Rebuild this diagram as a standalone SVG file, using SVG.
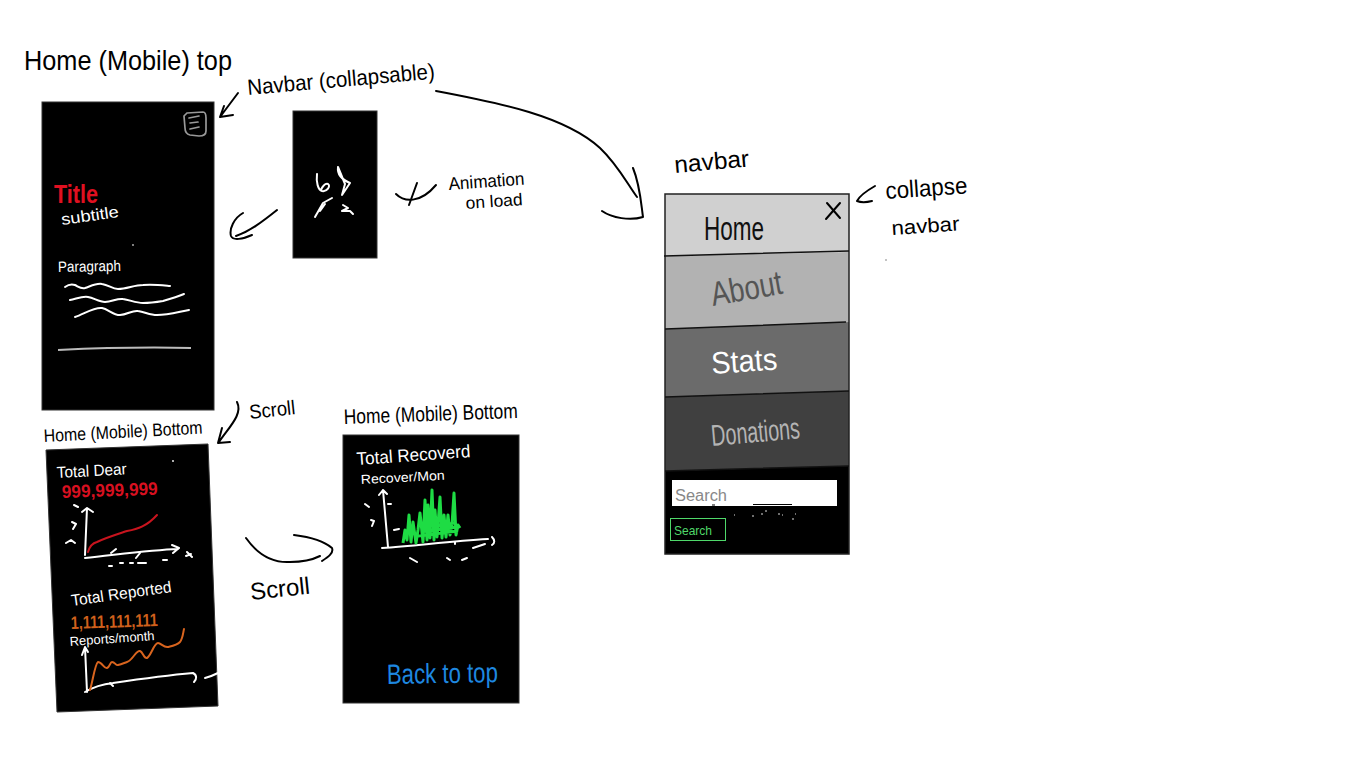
<svg xmlns="http://www.w3.org/2000/svg" width="1366" height="768" viewBox="0 0 1366 768">
<style>
text{font-family:"Liberation Sans","DejaVu Sans",sans-serif;fill:#000}
.w{fill:#fff}
.ink{fill:none;stroke:#000;stroke-width:2;stroke-linecap:round;stroke-linejoin:round}
.chalk{fill:none;stroke:#fff;stroke-width:2;stroke-linecap:round;stroke-linejoin:round}
.panel{fill:#000;stroke:#333;stroke-width:1}
.sep{fill:none;stroke:#111;stroke-width:1.5}
</style>
<rect width="1366" height="768" fill="#fff"/>
<g id="connectors">
<path class="ink" d="M238,93 L220,117 M224,106 L220,117 L233,115"/>
<path class="ink" d="M436,91 C500,103 565,116 600,148 C618,165 628,185 637,197 M633,168 C640,185 641,203 643,217 C630,221 612,218 602,211"/>
<path class="ink" d="M277,210 C262,222 250,231 236,236 M243,213 C234,218 229,229 231,236 C233,241 243,239 252,235"/>
<path class="ink" d="M396,194 C404,202 420,204 436,185 M417,183 L409,205"/>
<path class="ink" d="M875,186 C868,190 860,195 857,201 C862,203 868,202 872,201"/>
<path class="ink" d="M237,402 C243,414 230,426 219,442 M222,428 L218,443 L230,442"/>
<path class="ink" d="M246,538 C258,555 273,563 290,562 C302,562 312,560 320,556 M294,535 C310,537 325,542 332,548 C334,553 328,557 322,561"/>
</g>
<g id="label-home-top">
<text x="24" y="70" font-size="28" textLength="208" lengthAdjust="spacingAndGlyphs">Home (Mobile) top</text>
</g>
<g id="label-navbar-collapsable">
<text transform="translate(248,95) rotate(-5)" font-size="22" textLength="188" lengthAdjust="spacingAndGlyphs">Navbar (collapsable)</text>
</g>
<g id="home-top">
<rect class="panel" x="42" y="102" width="172" height="308"/>
<path d="M187,113 L203,112 C206,112 206,115 206,118 L206,131 C206,135 203,136 199,136 L190,135 C186,134 185,131 185,128 L184,116 Z M189,118 L199,116 M190,123 L198,122 M190,129 L199,127" fill="none" stroke="#999" stroke-width="1.7" stroke-linecap="round"/>
<text x="54" y="203" font-size="25" font-weight="bold" style="fill:#e01020" textLength="44" lengthAdjust="spacingAndGlyphs">Title</text>
<text class="w" transform="translate(62,225) rotate(-8)" font-size="16" textLength="58" lengthAdjust="spacingAndGlyphs">subtitle</text>
<text class="w" transform="translate(58,272) rotate(-1)" font-size="15" textLength="63" lengthAdjust="spacingAndGlyphs">Paragraph</text>
<path class="chalk" d="M65,287 C69,284 72,284 75,285 C79,287 81,289 85,288 C91,286 96,283 102,284 C109,285 112,289 118,289 C127,289 134,285 143,285 C152,284 160,285 170,286"/>
<path class="chalk" d="M70,300 C76,299 82,296 88,297 C94,298 99,302 105,302 C112,302 117,298 123,299 C130,300 136,303 143,303 C150,303 157,302 163,301 C170,299 177,297 184,294"/>
<path class="chalk" d="M75,317 C84,314 94,307 102,308 C108,309 113,315 120,315 C127,315 132,310 138,311 C145,312 150,315 157,315 C168,315 178,312 189,310"/>
<path d="M58,350 C100,348 150,347 191,348" fill="none" stroke="#bbb" stroke-width="2"/>
<circle cx="133" cy="245" r="0.9" fill="#bbb"/>
</g>
<g id="splash">
<rect class="panel" x="293" y="111" width="84" height="147"/>
<path class="chalk" d="M317,174 C316,182 318,190 322,191 C327,192 331,186 328,184 C325,183 322,187 321,190"/>
<path class="chalk" d="M338,167 C337,175 343,180 350,183 L342,195 L345,184 Z"/>
<path class="chalk" d="M332,198 L323,203 L315,217 M325,204 L320,211"/>
<path class="chalk" stroke-width="1.6" d="M343,205 L348,208 L342,211 L347,211 L350,211 L353,214"/>
</g>
<g id="label-animation">
<text transform="translate(449,190) rotate(-4)" font-size="18" textLength="76" lengthAdjust="spacingAndGlyphs">Animation</text>
<text transform="translate(466,209) rotate(-4)" font-size="17" textLength="57" lengthAdjust="spacingAndGlyphs">on load</text>
</g>
<g id="label-home-bottom-1">
<text transform="translate(44,442) rotate(-3)" font-size="18" textLength="159" lengthAdjust="spacingAndGlyphs">Home (Mobile) Bottom</text>
</g>
<g id="label-scroll-1">
<text transform="translate(250,419) rotate(-6)" font-size="20" textLength="46" lengthAdjust="spacingAndGlyphs">Scroll</text>
</g>
<g id="home-bottom-1">
<polygon points="46,450 208,444 218,706 57,712" fill="#000" stroke="#333"/>
<text class="w" transform="translate(57,478) rotate(-3)" font-size="16" textLength="70" lengthAdjust="spacingAndGlyphs">Total Dear</text>
<text transform="translate(62,498) rotate(-2)" font-size="18" font-weight="bold" style="fill:#d81020" textLength="96" lengthAdjust="spacingAndGlyphs">999,999,999</text>
<path class="chalk" d="M87,508 L85,555 M82,512 L87,508 L93,512 M85,558 C115,555 150,550 178,549 M172,545 L179,548 L173,553"/>
<path class="chalk" stroke-width="1.6" d="M74,505 L78,507 M72,522 L76,524 L73,529 M66,543 L71,540 L75,543 M111,553 L116,549 M136,558 L140,553 M109,566 L112,566 M120,563 L123,563 M130,563 L133,563 M138,563 L146,563 M163,560 L167,560 M191,554 L186,556 M187,552 L192,557"/>
<path d="M88,552 C90,545 93,543 97,542 C105,538 118,534 127,531 C138,529 147,526 157,515" fill="none" stroke="#c8141e" stroke-width="2" stroke-linecap="round"/>
<circle cx="173" cy="461" r="0.9" fill="#fff"/>
<text class="w" transform="translate(72,606) rotate(-8)" font-size="16" textLength="101" lengthAdjust="spacingAndGlyphs">Total Reported</text>
<text transform="translate(71,629) rotate(-2)" font-size="18" font-weight="bold" style="fill:#d0601c" textLength="87" lengthAdjust="spacingAndGlyphs">1,111,111,111</text>
<text class="w" transform="translate(70,646) rotate(-4)" font-size="13" textLength="85" lengthAdjust="spacingAndGlyphs">Reports/month</text>
<path class="chalk" d="M85,647 L87,692 M82,655 L85,647 L88,652 M85,692 C95,686 104,684 113,683 C140,679 170,675 193,673 C197,675 197,679 194,682 M205,678 C209,677 214,675 218,673 M110,683 L113,686"/>
<path d="M90,690 C93,680 95,664 98,662 C102,662 104,669 107,668 C110,667 110,662 112,662 C115,662 116,666 118,665 C122,664 124,663 127,662 C133,660 136,650 140,651 C143,652 144,659 147,658 C151,656 154,643 158,643 C161,643 164,648 168,647 C172,646 177,645 180,642 C183,638 183,633 184,629" fill="none" stroke="#d8641e" stroke-width="2" stroke-linecap="round"/>
</g>
<g id="label-scroll-2">
<text transform="translate(251,600) rotate(-6)" font-size="24" textLength="60" lengthAdjust="spacingAndGlyphs">Scroll</text>
</g>
<g id="label-home-bottom-2">
<text transform="translate(344,424) rotate(-2)" font-size="21" textLength="174" lengthAdjust="spacingAndGlyphs">Home (Mobile) Bottom</text>
</g>
<g id="home-bottom-2">
<rect class="panel" x="343" y="435" width="176" height="268"/>
<text class="w" transform="translate(357,465) rotate(-4)" font-size="18" textLength="114" lengthAdjust="spacingAndGlyphs">Total Recoverd</text>
<text class="w" transform="translate(361,484) rotate(-3)" font-size="13" textLength="84" lengthAdjust="spacingAndGlyphs">Recover/Mon</text>
<path class="chalk" d="M383,490 L388,547 M379,495 L383,490 L387,494 M382,548 C415,546 450,541 488,539 M492,537 C495,540 495,543 492,545 M473,548 L485,544"/>
<path class="chalk" stroke-width="1.6" d="M388,504 L391,504 M365,504 L369,507 M371,520 L374,521 L372,526 M394,530 L399,529 M410,558 L417,562 M447,558 L450,560 M462,560 L467,558 M455,542 L455,544"/>
<path d="M403,543 L405,530 L407,540 L409,515 L411,542 L413,522 L416,543 L418,530 L420,513 L423,542 L425,500 L427,540 L428,505 L430,538 L432,490 L434,540 L435,510 L437,537 L438,525 L440,497 L442,538 L444,515 L446,537 L448,515 L450,535 L452,525 L454,493 L456,535 L458,525 L460,528 M418,536 L458,531 M422,531 L458,527 M426,526 L456,523" fill="none" stroke="#1edc44" stroke-width="3" stroke-linejoin="round"/>
<text transform="translate(387,684) rotate(-1)" font-size="28" style="fill:#1e88e0" textLength="111" lengthAdjust="spacingAndGlyphs">Back to top</text>
</g>
<g id="label-navbar">
<text transform="translate(675,173) rotate(-5)" font-size="24" textLength="75" lengthAdjust="spacingAndGlyphs">navbar</text>
</g>
<g id="navbar-panel">
<polygon points="665,194 849,194 849,252 665,256" fill="#d0d0d0"/>
<polygon points="665,256 849,252 849,322 665,329" fill="#b2b2b2"/>
<polygon points="665,329 849,322 849,391 665,397" fill="#6b6b6b"/>
<polygon points="665,397 849,391 849,466 665,471" fill="#404040"/>
<polygon points="665,471 849,466 849,554 665,554" fill="#000"/>
<rect x="665" y="194" width="184" height="360" fill="none" stroke="#222" stroke-width="1.5"/>
<path class="sep" d="M664,256 L849,251 M665,329 L846,322 M665,397 L849,391 M665,471 L849,466"/>
<path class="ink" d="M827,203 L840,218 M840,203 L826,219"/>
<text x="704" y="240" font-size="33" textLength="60" lengthAdjust="spacingAndGlyphs" style="fill:#111">Home</text>
<text transform="translate(713,306) rotate(-10)" font-size="34" textLength="72" lengthAdjust="spacingAndGlyphs" style="fill:#555">About</text>
<text class="w" transform="translate(712,374) rotate(-4)" font-size="31" textLength="66" lengthAdjust="spacingAndGlyphs">Stats</text>
<text transform="translate(712,446) rotate(-5)" font-size="30" textLength="89" lengthAdjust="spacingAndGlyphs" style="fill:#b4b4b4">Donations</text>
<rect x="672" y="480" width="165" height="26" fill="#fff"/>
<text x="675" y="501" font-size="16" textLength="52" lengthAdjust="spacingAndGlyphs" style="fill:#888">Search</text>
<path d="M753,504.500 H792 M712,505 H715" stroke="#000" stroke-width="1" fill="none"/>
<path d="M734,515 h1 M752,516 h2 M761,514 h2 M765,511 h2 M778,514 h2 M782,515 h1 M792,519 h2 M795,514 h1" stroke="#ddd" stroke-width="1" fill="none"/>
<rect x="670.500" y="518.500" width="55" height="22" fill="none" stroke="#4fd86a" stroke-width="1"/>
<text x="674" y="535" font-size="13" textLength="38" lengthAdjust="spacingAndGlyphs" style="fill:#4fd86a">Search</text>
</g>
<g id="label-collapse-navbar">
<text transform="translate(886,199) rotate(-4)" font-size="24" textLength="82" lengthAdjust="spacingAndGlyphs">collapse</text>
<text transform="translate(892,235) rotate(-4)" font-size="20" textLength="68" lengthAdjust="spacingAndGlyphs">navbar</text>
<circle cx="886" cy="260" r="0.8" fill="#777"/>
</g>
</svg>
